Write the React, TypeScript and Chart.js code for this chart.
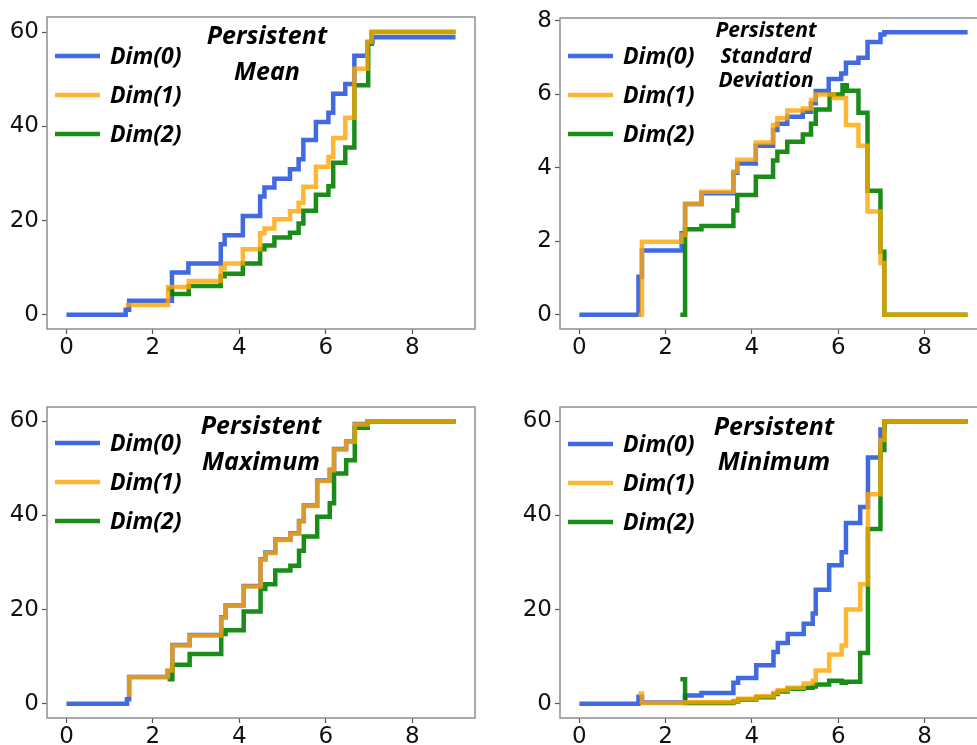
import React, { useEffect, useRef } from 'react';
import { Chart, registerables } from 'chart.js';

Chart.register(...registerables);

type Pt = [number, number];

// ---------- data ----------
const seriesLabels = ['Dim(0)', 'Dim(1)', 'Dim(2)'];
const xTicks = [0, 2, 4, 6, 8];
const countTicks = [0, 20, 40, 60];
const stdTicks = [0, 2, 4, 6, 8];

const meanDim0: Pt[] = [[0, 0], [1.37, 1.1], [1.45, 3.0], [2.44, 9.0], [2.82, 10.9], [3.57, 15.0], [3.66, 16.9], [4.08, 21.0], [4.48, 25.1], [4.58, 27.0], [4.81, 28.9], [5.17, 30.9], [5.37, 33.0], [5.48, 37.1], [5.77, 40.9], [6.06, 42.9], [6.17, 46.9], [6.45, 49.0], [6.66, 55.0], [6.96, 57.9], [7.08, 58.9], [9, 58.9]];
const meanDim1: Pt[] = [[1.37, 2.1], [2.35, 5.9], [2.83, 7.2], [3.57, 9.9], [3.66, 10.9], [4.08, 13.9], [4.48, 17.3], [4.58, 18.3], [4.81, 20.3], [5.17, 22.0], [5.37, 23.8], [5.48, 27.2], [5.77, 31.4], [6.06, 33.5], [6.17, 37.5], [6.45, 41.8], [6.66, 52.2], [6.96, 57.9], [7.06, 60], [9, 60]];
const meanDim2: Pt[] = [[2.33, 5.4], [2.44, 4.4], [2.83, 6.1], [3.57, 8.2], [3.66, 8.7], [4.08, 10.9], [4.48, 13.9], [4.58, 14.7], [4.81, 16.4], [5.17, 17.4], [5.37, 19.4], [5.48, 22.1], [5.77, 25.5], [6.06, 27.3], [6.17, 32.3], [6.45, 35.5], [6.66, 48.7], [6.98, 57.5], [7.06, 60], [9, 60]];

const stdDim0: Pt[] = [[0, 0], [1.37, 1.04], [1.45, 1.75], [2.37, 2.22], [2.45, 3.02], [2.83, 3.31], [3.57, 3.87], [3.66, 4.12], [4.09, 4.6], [4.49, 5.03], [4.59, 5.2], [4.82, 5.39], [5.18, 5.53], [5.37, 5.76], [5.48, 6.09], [5.78, 6.42], [6.07, 6.57], [6.18, 6.86], [6.47, 7.0], [6.68, 7.43], [6.98, 7.63], [7.07, 7.69], [9, 7.69]];
const stdDim1: Pt[] = [[1.37, 0], [1.45, 1.99], [2.37, 2.18], [2.45, 3.02], [2.83, 3.35], [3.57, 3.9], [3.66, 4.22], [4.09, 4.69], [4.49, 5.17], [4.59, 5.35], [4.82, 5.56], [5.18, 5.62], [5.37, 5.85], [5.48, 6.0], [5.9, 5.9], [6.18, 5.17], [6.47, 4.6], [6.68, 2.81], [6.98, 1.41], [7.07, 0], [9, 0]];
const stdDim2: Pt[] = [[2.34, 0], [2.45, 2.33], [2.83, 2.42], [3.57, 2.84], [3.66, 3.26], [4.09, 3.76], [4.49, 4.2], [4.59, 4.44], [4.82, 4.71], [5.18, 4.91], [5.37, 5.2], [5.48, 5.59], [5.8, 6.0], [6.1, 6.25], [6.2, 6.1], [6.47, 5.5], [6.68, 3.38], [6.98, 1.72], [7.07, 0], [9, 0]];

const maxDim0: Pt[] = [[0, 0], [1.4, 1.0], [1.45, 5.7], [2.34, 7.0], [2.45, 12.5], [2.85, 14.6], [3.58, 18.4], [3.68, 20.9], [4.1, 25.0], [4.49, 30.7], [4.6, 32.1], [4.83, 34.9], [5.18, 36.2], [5.38, 38.8], [5.49, 42.1], [5.8, 47.4], [6.09, 49.7], [6.19, 54.1], [6.47, 55.7], [6.67, 59.4], [6.97, 60], [9, 60]];
const maxDim1: Pt[] = [[1.4, 2.0], [1.45, 5.7], [2.34, 7.1], [2.45, 12.4], [2.85, 14.5], [3.58, 18.3], [3.68, 20.8], [4.1, 24.9], [4.49, 30.6], [4.6, 32.0], [4.83, 34.8], [5.18, 36.1], [5.38, 38.7], [5.49, 42.0], [5.8, 47.3], [6.09, 49.6], [6.19, 54.0], [6.47, 55.6], [6.67, 59.3], [6.97, 60], [9, 60]];
const maxDim2: Pt[] = [[2.34, 5.2], [2.45, 8.3], [2.85, 10.6], [3.58, 14.8], [3.68, 15.6], [4.1, 19.6], [4.49, 24.4], [4.6, 25.4], [4.83, 28.3], [5.18, 29.3], [5.38, 32.5], [5.49, 35.5], [5.8, 39.7], [6.09, 42.6], [6.19, 48.9], [6.47, 51.7], [6.67, 58.6], [6.97, 60], [9, 60]];

const minDim0: Pt[] = [[0, 0], [1.37, 1.5], [1.45, 0.3], [2.45, 1.8], [2.83, 2.3], [3.57, 4.5], [3.68, 5.5], [4.1, 8.2], [4.5, 11.0], [4.6, 12.9], [4.83, 14.8], [5.2, 17.0], [5.41, 19.2], [5.48, 24.2], [5.79, 29.4], [6.08, 32.2], [6.18, 38.4], [6.51, 41.8], [6.69, 52.3], [6.98, 58.2], [7.07, 60], [9, 60]];
const minDim1: Pt[] = [[1.37, 2.2], [1.45, 0.2], [2.45, 0.35], [3.57, 0.6], [3.68, 1.1], [4.1, 1.6], [4.5, 2.3], [4.6, 2.9], [4.83, 3.4], [5.2, 4.3], [5.41, 4.9], [5.48, 7.1], [5.79, 10.5], [6.08, 12.4], [6.18, 20.0], [6.51, 25.4], [6.69, 44.5], [6.98, 56.0], [7.07, 60], [9, 60]];
const minDim2: Pt[] = [[2.34, 5.2], [2.45, 0.2], [3.57, 0.5], [3.68, 0.9], [4.1, 1.4], [4.5, 2.1], [4.6, 2.6], [4.83, 3.2], [5.2, 3.4], [5.41, 3.7], [5.48, 4.1], [5.79, 4.9], [6.08, 4.5], [6.18, 4.7], [6.51, 10.8], [6.69, 37.1], [6.98, 53.9], [7.07, 60], [9, 60]];

// ---------- styling ----------
const LINE_COLORS = ['#4169E1', 'rgba(255,165,0,0.8)', 'rgba(0,128,0,0.9)'];
const DRAW_ORDER = [2, 0, 1]; // blue bottom, orange top
const TICK_FONT = { family: 'DejaVu Sans', size: 23 };
const LABEL_FAMILY = '"Open Sans", "DejaVu Sans", sans-serif';

interface PanelCfg {
  series: Pt[][];
  yTicks: number[];
  yMin: number;
  yMax: number;
  title: string[];
  titleSize: number;
  titleCx: number;
  titleYs: number[];
  legendTop: number;
  left: number;
  top: number;
  width: number;
  height: number;
  padTop: number;
  padRight: number;
  yAxisW: number;
  xAxisH: number;
}

const decorPlugin = {
  id: 'decor',
  afterDatasetsDraw(chart: any, _args: any, opts: any) {
    const { ctx, chartArea: a } = chart;
    ctx.save();
    // frame
    ctx.strokeStyle = '#8e8e8e';
    ctx.lineWidth = 1.5;
    ctx.strokeRect(a.left, a.top, a.right - a.left, a.bottom - a.top);
    // legend
    ctx.font = `italic bold 23px ${LABEL_FAMILY}`;
    ctx.textBaseline = 'middle';
    ctx.textAlign = 'left';
    chart.data.datasets.forEach((ds: any, i: number) => {
      const y = a.top + opts.legendTop + i * 39;
      ctx.strokeStyle = ds.borderColor;
      ctx.lineWidth = 4.5;
      ctx.beginPath();
      ctx.moveTo(a.left + 8, y);
      ctx.lineTo(a.left + 53, y);
      ctx.stroke();
      ctx.fillStyle = '#000';
      ctx.fillText(ds.label, a.left + 63, y + 1);
    });
    // title
    ctx.font = `italic bold ${opts.titleSize}px ${LABEL_FAMILY}`;
    ctx.textAlign = 'center';
    ctx.fillStyle = '#000';
    (opts.title as string[]).forEach((t, i) => {
      ctx.fillText(t, a.left + opts.titleCx, a.top + opts.titleYs[i]);
    });
    ctx.restore();
  },
};

function Panel({ cfg }: { cfg: PanelCfg }) {
  const ref = useRef<HTMLCanvasElement>(null);
  useEffect(() => {
    if (!ref.current) return;
    const chart = new Chart(ref.current, {
      type: 'line',
      data: {
        datasets: cfg.series.map((s, i) => ({
          label: seriesLabels[i],
          data: s.map(([x, y]) => ({ x, y })),
          borderColor: LINE_COLORS[i],
          backgroundColor: LINE_COLORS[i],
          borderWidth: 4.5,
          pointRadius: 0,
          fill: false,
          stepped: true,
          order: DRAW_ORDER[i],
          borderCapStyle: 'butt',
          borderJoinStyle: 'miter',
        })),
      },
      options: {
        animation: false,
        responsive: false,
        maintainAspectRatio: false,
        events: [],
        layout: { padding: { top: cfg.padTop, right: cfg.padRight, left: 0, bottom: 0 } },
        plugins: {
          legend: { display: false },
          tooltip: { enabled: false },
          decor: {
            title: cfg.title,
            titleSize: cfg.titleSize,
            titleCx: cfg.titleCx,
            titleYs: cfg.titleYs,
            legendTop: cfg.legendTop,
          },
        } as any,
        scales: {
          x: {
            type: 'linear',
            min: -0.45,
            max: 9.45,
            afterBuildTicks: (s: any) => {
              s.ticks = xTicks.map((v) => ({ value: v }));
            },
            afterFit: (s: any) => {
              s.height = cfg.xAxisH;
            },
            grid: { display: true, drawOnChartArea: false, drawTicks: true, tickLength: 5, tickColor: '#555', tickWidth: 1.2 },
            border: { display: false },
            ticks: { font: TICK_FONT, color: '#111', padding: 0, maxRotation: 0, autoSkip: false, callback: (v: any) => String(v) },
          },
          y: {
            type: 'linear',
            min: cfg.yMin,
            max: cfg.yMax,
            afterBuildTicks: (s: any) => {
              s.ticks = cfg.yTicks.map((v) => ({ value: v }));
            },
            afterFit: (s: any) => {
              s.width = cfg.yAxisW;
            },
            grid: { display: true, drawOnChartArea: false, drawTicks: true, tickLength: 5, tickColor: '#555', tickWidth: 1.2 },
            border: { display: false },
            ticks: { font: TICK_FONT, color: '#111', padding: 3, autoSkip: false, callback: (v: any) => String(v) },
          },
        },
      } as any,
      plugins: [decorPlugin],
    });
    return () => chart.destroy();
  }, [cfg]);
  return (
    <canvas
      ref={ref}
      width={cfg.width}
      height={cfg.height}
      style={{ position: 'absolute', left: cfg.left, top: cfg.top, width: cfg.width, height: cfg.height }}
    />
  );
}

const panels: PanelCfg[] = [
  {
    series: [meanDim0, meanDim1, meanDim2], yTicks: countTicks, yMin: -3, yMax: 63.2,
    title: ['Persistent', 'Mean'], titleSize: 25, titleCx: 220, titleYs: [20, 56], legendTop: 39,
    left: 0, top: 0, width: 490, height: 370, padTop: 17, padRight: 15, yAxisW: 47, xAxisH: 41,
  },
  {
    series: [stdDim0, stdDim1, stdDim2], yTicks: stdTicks, yMin: -0.385, yMax: 8.08,
    title: ['Persistent', 'Standard', 'Deviation'], titleSize: 21, titleCx: 206, titleYs: [13, 39, 63], legendTop: 38,
    left: 490, top: 0, width: 500, height: 370, padTop: 18, padRight: 3, yAxisW: 70, xAxisH: 41,
  },
  {
    series: [maxDim0, maxDim1, maxDim2], yTicks: countTicks, yMin: -3, yMax: 63,
    title: ['Persistent', 'Maximum'], titleSize: 25, titleCx: 214, titleYs: [20, 56], legendTop: 36,
    left: 0, top: 370, width: 490, height: 375, padTop: 37, padRight: 15, yAxisW: 47, xAxisH: 27,
  },
  {
    series: [minDim0, minDim1, minDim2], yTicks: countTicks, yMin: -3, yMax: 63,
    title: ['Persistent', 'Minimum'], titleSize: 25, titleCx: 214, titleYs: [21, 56], legendTop: 37,
    left: 490, top: 370, width: 500, height: 375, padTop: 37, padRight: 3, yAxisW: 70, xAxisH: 27,
  },
];

export default function App() {
  return (
    <div style={{ position: 'absolute', left: 0, top: 0, width: 977, height: 745, overflow: 'hidden', background: '#fff' }}>
      {panels.map((p, i) => (
        <Panel key={i} cfg={p} />
      ))}
    </div>
  );
}
